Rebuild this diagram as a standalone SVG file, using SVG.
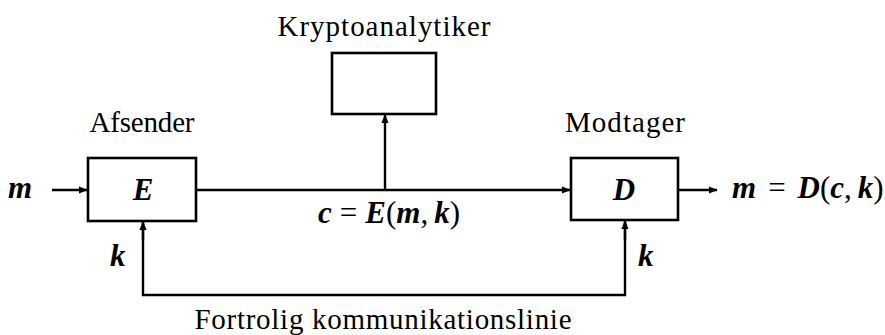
<svg xmlns="http://www.w3.org/2000/svg" width="885" height="335" viewBox="0 0 885 335">
  <style>
    .box { fill: #fff; stroke: #000; stroke-width: 2.6; }
    .wire { fill: none; stroke: #000; stroke-width: 2.4; }
    .lbl { font-family: "Liberation Serif", "DejaVu Serif", serif; font-size: 29px; fill: #000; }
    .math { font-family: "Liberation Serif", "DejaVu Serif", serif; font-size: 31px; font-style: italic; font-weight: bold; fill: #000; }
    .op { font-family: "Liberation Serif", "DejaVu Serif", serif; font-size: 31px; fill: #000; }
  </style>
  <defs>
    <marker id="head" viewBox="0 0 10 10" refX="9" refY="5" markerWidth="9" markerHeight="9" markerUnits="userSpaceOnUse" orient="auto">
      <path d="M0,1 L10,5 L0,9 Z" fill="#000"/>
    </marker>
  </defs>

  <rect width="885" height="335" fill="#fff"/>

  <g id="connectors">
    <!-- plaintext into encryption -->
    <line class="wire" x1="52" y1="190" x2="87" y2="190" marker-end="url(#head)"/>
    <!-- channel between encryption and decryption -->
    <line class="wire" x1="196" y1="190" x2="570" y2="190" marker-end="url(#head)"/>
    <!-- tap to the cryptanalyst -->
    <line class="wire" x1="385" y1="190" x2="385" y2="115" marker-end="url(#head)"/>
    <!-- decrypted output -->
    <line class="wire" x1="678" y1="190" x2="717" y2="190" marker-end="url(#head)"/>
    <!-- secure key channel -->
    <polyline class="wire" points="143,222 143,295 625,295 625,222"/>
    <line class="wire" x1="143" y1="240" x2="143" y2="222" marker-end="url(#head)"/>
    <line class="wire" x1="625" y1="240" x2="625" y2="221" marker-end="url(#head)"/>
  </g>

  <g id="sender">
    <rect class="box" x="88" y="158" width="108" height="63"/>
    <text class="lbl" x="142" y="132" text-anchor="middle" textLength="105">Afsender</text>
    <text class="math" x="143" y="200" text-anchor="middle">E</text>
  </g>

  <g id="analyst">
    <rect class="box" x="332" y="53" width="104" height="61"/>
    <text class="lbl" x="384" y="36" text-anchor="middle" textLength="213">Kryptoanalytiker</text>
  </g>

  <g id="receiver">
    <rect class="box" x="571" y="158" width="107" height="62"/>
    <text class="lbl" x="625" y="132" text-anchor="middle" textLength="120">Modtager</text>
    <text class="math" x="624" y="200" text-anchor="middle">D</text>
  </g>

  <g id="labels">
    <text class="math" x="8" y="198">m</text>
    <text x="318" y="223"><tspan class="math">c</tspan><tspan class="op" dx="8">=</tspan><tspan class="math" dx="8">E</tspan><tspan class="op">(</tspan><tspan class="math">m</tspan><tspan class="op">,</tspan><tspan class="math" dx="6">k</tspan><tspan class="op">)</tspan></text>
    <text x="732" y="198"><tspan class="math">m</tspan><tspan class="op" dx="12">=</tspan><tspan class="math" dx="12">D</tspan><tspan class="op">(</tspan><tspan class="math">c</tspan><tspan class="op">,</tspan><tspan class="math" dx="6">k</tspan><tspan class="op">)</tspan></text>
    <text class="math" x="110" y="266">k</text>
    <text class="math" x="638" y="266">k</text>
    <text class="lbl" x="383" y="329" text-anchor="middle" textLength="377">Fortrolig kommunikationslinie</text>
  </g>
</svg>
